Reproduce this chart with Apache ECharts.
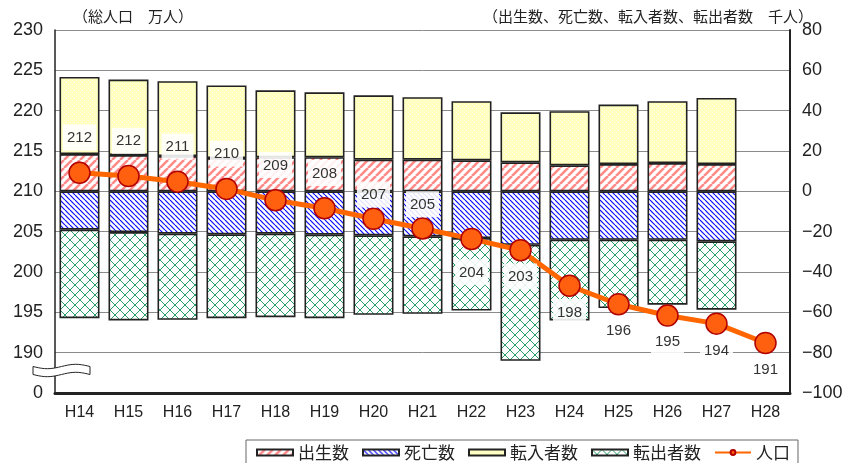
<!DOCTYPE html>
<html>
<head>
<meta charset="utf-8">
<script src="https://cdn.jsdelivr.net/npm/echarts@6/dist/echarts.min.js"></script>
<style>
  html, body { margin: 0; padding: 0; background: #fff; }
  #chart { width: 850px; height: 463px; }
</style>
</head>
<body>
<div id="chart"></div>
<script>
// 年度
const years = ['H14', 'H15', 'H16', 'H17', 'H18', 'H19', 'H20', 'H21', 'H22', 'H23', 'H24', 'H25', 'H26', 'H27', 'H28'];
// 総人口（万人）
const population = [212.3, 211.9, 211.2, 210.3, 208.9, 207.9, 206.6, 205.4, 204.1, 202.7, 198.3, 196.0, 194.6, 193.6, 191.2];
// 千人
const births = [18.5, 18.0, 17.5, 16.5, 16.9, 16.9, 15.7, 15.7, 15.4, 14.4, 12.9, 13.5, 14.0, 13.5, null];
const deaths = [19.0, 20.2, 21.0, 21.3, 21.0, 21.5, 21.8, 22.3, 23.2, 26.5, 24.0, 24.0, 24.0, 24.8, null];
const movedIn = [38.2, 37.4, 37.1, 36.0, 33.2, 32.2, 31.9, 31.0, 29.3, 24.8, 26.8, 29.5, 30.7, 32.8, null];
const movedOut = [43.9, 43.8, 42.7, 41.6, 41.4, 41.4, 39.4, 38.4, 35.9, 57.5, 40.0, 33.9, 32.2, 33.9, null];

const leftTicks = { min: 185, max: 230, step: 5 };
const rightTicks = { min: -100, max: 80, step: 20 };

function makePattern(w, h, draw) {
  const c = document.createElement('canvas');
  c.width = w; c.height = h;
  const ctx = c.getContext('2d');
  draw(ctx, w, h);
  return { image: c, repeat: 'repeat' };
}

const redPat = makePattern(8, 8, (ctx) => {
  ctx.fillStyle = '#fff'; ctx.fillRect(0, 0, 8, 8);
  ctx.strokeStyle = '#ff8a8a'; ctx.lineWidth = 2.6;
  [-8, 0, 8].forEach(o => { ctx.beginPath(); ctx.moveTo(o, 8); ctx.lineTo(o + 8, 0); ctx.stroke(); });
});
const bluePat = makePattern(5, 5, (ctx) => {
  ctx.fillStyle = '#fff'; ctx.fillRect(0, 0, 5, 5);
  ctx.strokeStyle = '#0a0aff'; ctx.lineWidth = 1.2;
  [-5, 0, 5].forEach(o => { ctx.beginPath(); ctx.moveTo(o, 0); ctx.lineTo(o + 5, 5); ctx.stroke(); });
});
const yellowPat = makePattern(4, 4, (ctx) => {
  ctx.fillStyle = '#ffffbe'; ctx.fillRect(0, 0, 4, 4);
  ctx.fillStyle = '#fffff0'; ctx.fillRect(0, 0, 1, 1); ctx.fillRect(2, 2, 1, 1);
});
const greenPat = makePattern(10, 10, (ctx) => {
  ctx.fillStyle = '#fff'; ctx.fillRect(0, 0, 10, 10);
  ctx.strokeStyle = '#2a9f6a'; ctx.lineWidth = 1;
  ctx.beginPath(); ctx.moveTo(0, 0); ctx.lineTo(10, 10); ctx.stroke();
  ctx.beginPath(); ctx.moveTo(0, 10); ctx.lineTo(10, 0); ctx.stroke();
});

const numFont = 'Liberation Sans, Arial, sans-serif';
const jpFont = 'Noto Sans CJK JP, sans-serif';

// label placement of the population values
function labelFor(i) {
  let position = 'top', distance = 11;
  if (i === 6 || i === 7) distance = 0;
  else if (i === 8) { position = 'bottom'; distance = 9; }
  else if (i >= 9) { position = 'bottom'; distance = 2; }
  return { position, distance };
}

const barBase = {
  type: 'bar', stack: 'flow', yAxisIndex: 1, barWidth: 40,
  itemStyle: { borderColor: '#222', borderWidth: 1.6 },
  emphasis: { disabled: true }
};

// wavy break mark on the left axis
const wavePts = [];
for (let k = 0; k <= 20; k++) {
  const x = 33 + k * 57 / 20;
  wavePts.push([x, 366.5 + 2.2 * Math.sin(k / 20 * Math.PI * 2)]);
}
for (let k = 20; k >= 0; k--) {
  const x = 33 + k * 57 / 20;
  wavePts.push([x, 374.5 + 2.2 * Math.sin(k / 20 * Math.PI * 2)]);
}

const chart = echarts.init(document.getElementById('chart'));
chart.setOption({
  animation: false,
  grid: { left: 55, right: 60, top: 30, bottom: 70 },
  title: [
    { text: '（総人口　万人）', left: 68, top: 4, textStyle: { fontFamily: jpFont, fontSize: 15, fontWeight: 'normal', color: '#222' } },
    { text: '（出生数、死亡数、転入者数、転出者数　千人）', right: 32, top: 4, textStyle: { fontFamily: jpFont, fontSize: 15, fontWeight: 'normal', color: '#222' } }
  ],
  legend: {
    top: 440, left: 246,
    padding: [4, 8, 10, 10],
    borderColor: '#666', borderWidth: 1,
    itemWidth: 36, itemHeight: 6, itemGap: 13,
    textStyle: { fontFamily: jpFont, fontSize: 17, color: '#222' },
    data: [
      { name: '出生数', icon: 'rect' },
      { name: '死亡数', icon: 'rect' },
      { name: '転入者数', icon: 'rect' },
      { name: '転出者数', icon: 'rect' },
      { name: '人口' }
    ]
  },
  xAxis: {
    type: 'category', data: years,
    axisLine: { onZero: false, lineStyle: { color: '#222', width: 3 } },
    axisTick: { show: false },
    axisLabel: { fontFamily: numFont, fontSize: 16, color: '#222', margin: 12 }
  },
  yAxis: [
    {
      type: 'value', min: leftTicks.min, max: leftTicks.max, interval: leftTicks.step,
      axisLine: { show: true, lineStyle: { color: '#222', width: 1.5 } },
      axisTick: { show: false },
      splitLine: { lineStyle: { color: '#8a8a8a', width: 1 } },
      axisLabel: {
        fontFamily: numFont, fontSize: 18, color: '#222', margin: 12,
        formatter: v => (v === leftTicks.min ? '0' : String(v))
      }
    },
    {
      type: 'value', min: rightTicks.min, max: rightTicks.max, interval: rightTicks.step,
      position: 'right',
      axisLine: { show: true, lineStyle: { color: '#222', width: 2 } },
      axisTick: { show: false },
      splitLine: { show: false },
      axisLabel: {
        fontFamily: numFont, fontSize: 18, color: '#222', margin: 12,
        formatter: v => String(v).replace('-', '\u2212')
      }
    }
  ],
  series: [
    Object.assign({}, barBase, { name: '出生数', data: births, itemStyle: Object.assign({}, barBase.itemStyle, { color: redPat }) }),
    Object.assign({}, barBase, { name: '死亡数', data: deaths.map(v => v == null ? null : -v), itemStyle: Object.assign({}, barBase.itemStyle, { color: bluePat }) }),
    Object.assign({}, barBase, { name: '転入者数', data: movedIn, itemStyle: Object.assign({}, barBase.itemStyle, { color: yellowPat }) }),
    Object.assign({}, barBase, { name: '転出者数', data: movedOut.map(v => v == null ? null : -v), itemStyle: Object.assign({}, barBase.itemStyle, { color: greenPat }) }),
    {
      name: '人口', type: 'line', yAxisIndex: 0, z: 5,
      data: population.map((v, i) => ({ value: v, label: labelFor(i) })),
      symbol: 'circle', symbolSize: 21,
      lineStyle: { color: '#ff6600', width: 5 },
      itemStyle: { color: '#ff6010', borderColor: '#b00000', borderWidth: 1.5 },
      label: {
        show: true,
        formatter: p => String(Math.round(p.value)),
        fontFamily: numFont, fontSize: 15, color: '#333',
        backgroundColor: 'rgba(255,255,255,0.88)',
        padding: [6, 4, 5, 4]
      },
      emphasis: { disabled: true }
    }
  ],
  graphic: [
    {
      type: 'polygon', z: 100,
      shape: { points: wavePts, smooth: 0 },
      style: { fill: '#fff', stroke: '#222', lineWidth: 1 }
    }
  ]
});
</script>
</body>
</html>
